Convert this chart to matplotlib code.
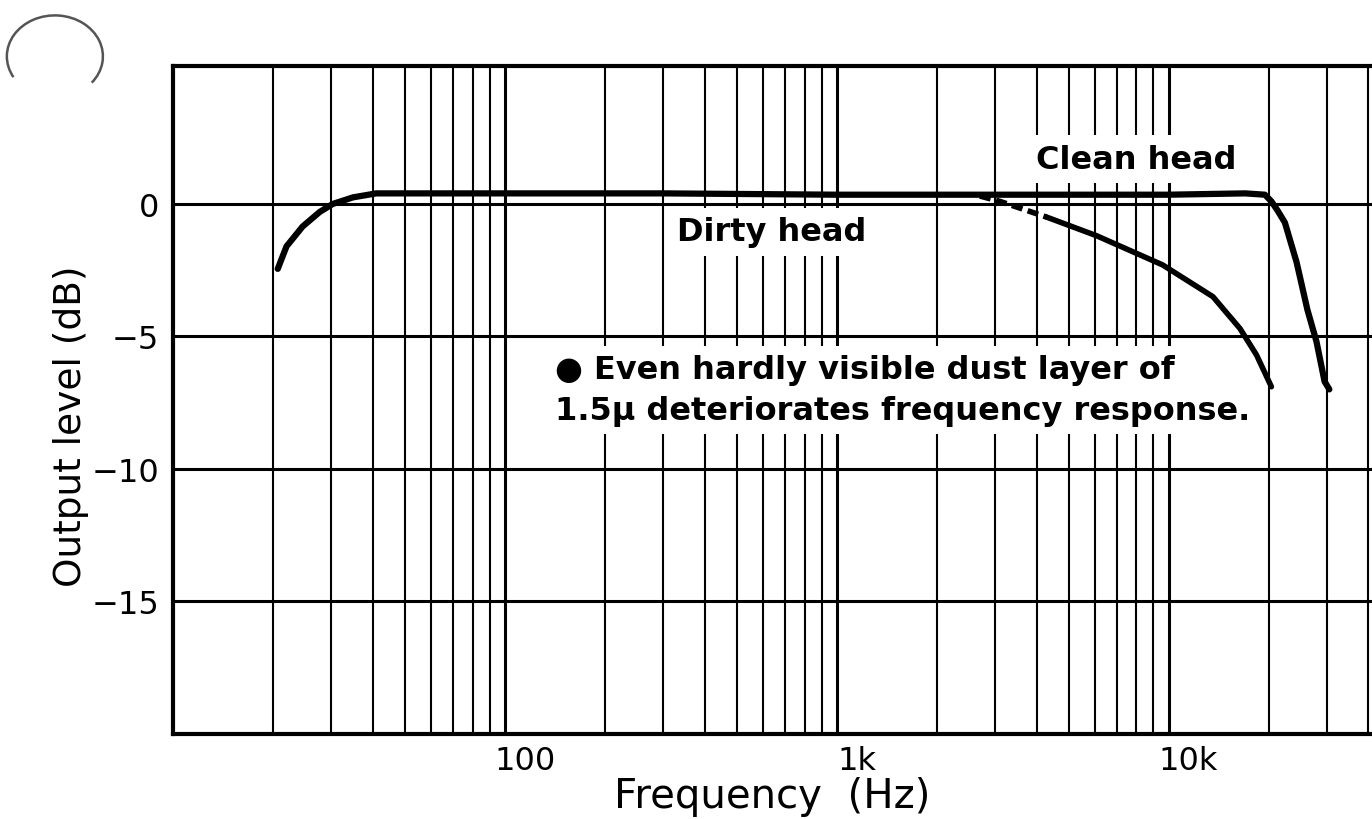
import matplotlib
matplotlib.use("Agg")
import matplotlib.pyplot as plt
import matplotlib.transforms as mtransforms
from matplotlib.patches import Arc

# clean head response (Hz, dB)
clean_freq = [20.7, 22.0, 24.6, 27.7, 30.3, 34.9, 41.0, 60, 100, 300, 1000, 3000,
              10000, 17000, 19500, 20400, 21300, 22400, 24300, 26200, 27900, 29500, 30500]
clean_db = [-2.45, -1.6, -0.85, -0.3, 0.0, 0.25, 0.4, 0.4, 0.4, 0.4, 0.35, 0.35,
            0.35, 0.4, 0.35, 0.1, -0.25, -0.7, -2.2, -4.0, -5.2, -6.7, -7.0]

# dirty head response (Hz, dB)
dirty_freq = [2700, 3100, 4300, 6070, 9590, 13600, 16400, 18400, 20400]
dirty_db = [0.3, 0.1, -0.5, -1.2, -2.3, -3.5, -4.7, -5.7, -6.9]

xtick_vals = [100, 1000, 10000]
xtick_labels = ["100", "1k", "10k"]
ytick_vals = [0, -5, -10, -15]
ytick_labels = ["0", "\u22125", "\u221210", "\u221215"]

minor_vals = [m * d for d in (10, 100, 1000, 10000) for m in range(2, 10) if m * d < 41000]

fig = plt.figure(figsize=(13.72, 8.2), dpi=100)
ax = fig.add_axes([0.126, 0.104, 0.874, 0.814])

ax.set_xscale("log")
ax.set_xticks(xtick_vals)
ax.set_xticklabels(xtick_labels)
ax.set_xticks(minor_vals, minor=True)
ax.xaxis.set_minor_formatter(plt.NullFormatter())
ax.set_yticks(ytick_vals)
ax.set_yticklabels(ytick_labels)
# limits after ticks, otherwise set_xticks widens them
ax.set_xlim(10, 41000)
ax.set_ylim(-20, 5.2)
ax.tick_params(which="both", length=0, labelsize=23, pad=8)
ax.tick_params(axis="y", pad=10)

# the scanned tick labels sit a bit right of their gridlines
offset = mtransforms.ScaledTranslation(0.2, 0, fig.dpi_scale_trans)
for lab in ax.get_xticklabels():
    lab.set_transform(lab.get_transform() + offset)

ax.set_axisbelow(True)
ax.grid(which="major", axis="x", color="black", lw=2.2)
ax.grid(which="minor", axis="x", color="black", lw=1.5)
ax.grid(which="major", axis="y", color="black", lw=2.2)

for side in ["left", "top", "bottom"]:
    ax.spines[side].set_linewidth(3)
ax.spines["right"].set_visible(False)

ax.plot(clean_freq, clean_db, color="black", lw=4.5, solid_capstyle="round", zorder=5)
ax.plot(dirty_freq[:3], dirty_db[:3], color="black", lw=4, ls=(0, (2, 1)), zorder=5)
ax.plot(dirty_freq[2:], dirty_db[2:], color="black", lw=4, solid_capstyle="round", zorder=5)

# printed labels blank out the grid behind them
box = dict(facecolor="white", edgecolor="none", pad=6)
ax.text(0.803, 0.861, "Clean head", transform=ax.transAxes, fontsize=23,
        fontweight="bold", ha="center", va="center", bbox=box, zorder=3)
ax.text(0.499, 0.752, "Dirty head", transform=ax.transAxes, fontsize=23,
        fontweight="bold", ha="center", va="center", bbox=box, zorder=3)
ax.text(0.319, 0.515, "\u25cf Even hardly visible dust layer of\n1.5\u03bc deteriorates frequency response.",
        transform=ax.transAxes, fontsize=23, fontweight="bold", ha="left", va="center",
        linespacing=1.4, bbox=box, zorder=3)

ax.set_xlabel("Frequency  (Hz)", fontsize=29, labelpad=0)
ax.set_ylabel("Output level (dB)", fontsize=27)
ax.yaxis.set_label_coords(-0.07, 0.462)

# punch hole mark from the scan
fig.patches.append(Arc((0.04, 0.93), 0.07, 0.1, theta1=-50, theta2=220,
                       transform=fig.transFigure, color="#555555", lw=1.8))

fig.savefig("out.png", dpi=100)
